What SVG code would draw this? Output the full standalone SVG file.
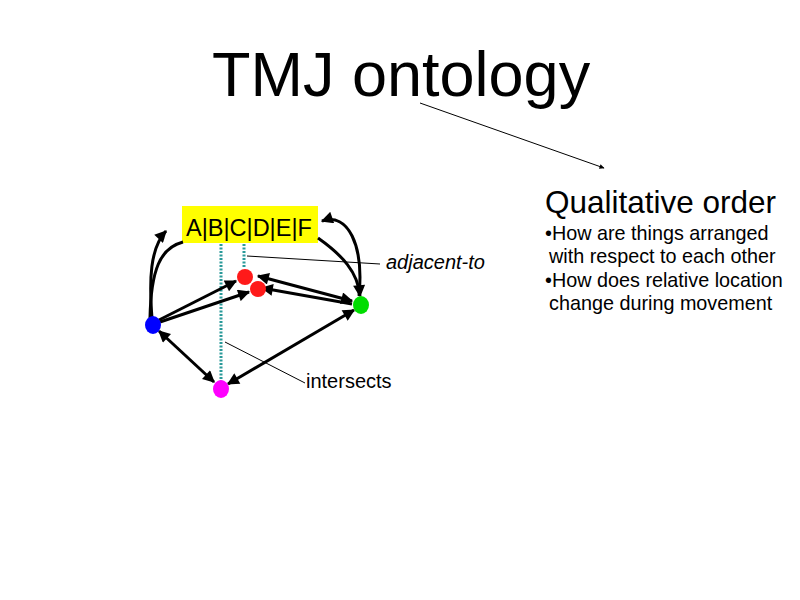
<svg xmlns="http://www.w3.org/2000/svg" width="800" height="600" viewBox="0 0 800 600">
<defs>
<style>
text{font-family:"Liberation Sans",Arial,sans-serif;fill:#000}
.c{stroke:#000;stroke-width:3;fill:none}
.thin{stroke:#000;stroke-width:1;fill:none}
.teal{stroke:#2a9a9a;stroke-width:3;stroke-dasharray:2,1.5;fill:none}
</style>
<marker id="ah" viewBox="0 0 10 10" refX="9" refY="5" markerWidth="4.5" markerHeight="4" orient="auto-start-reverse" markerUnits="strokeWidth">
<path d="M0,0 L10,5 L0,10 z" fill="#000"/>
</marker>
<marker id="ah2" viewBox="0 0 10 10" refX="9" refY="5" markerWidth="7" markerHeight="5" orient="auto" markerUnits="strokeWidth">
<path d="M0,0 L10,5 L0,10 z" fill="#000"/>
</marker>
</defs>
<rect width="800" height="600" fill="#fff"/>
<g id="title"><text x="212" y="96" font-size="63">TMJ ontology</text></g>
<g id="box"><rect x="182" y="206" width="136" height="37" fill="#ffff00"/><text x="186" y="236" font-size="23.5">A|B|C|D|E|F</text></g>
<g id="connectors">
<line class="thin" x1="420" y1="103" x2="604" y2="168" stroke-width="2" marker-end="url(#ah2)"/>
<line class="teal" x1="221" y1="244" x2="221" y2="381"/>
<line class="teal" x1="244" y1="244" x2="244" y2="268"/>
<line class="thin" x1="247" y1="256" x2="380" y2="264"/>
<line class="thin" x1="225" y1="342" x2="305" y2="383"/>
<path class="c" d="M152,318 C149,280 150,248 166,231" marker-end="url(#ah)"/>
<path class="c" d="M183,242 C160,248 151,270 150,318"/>
<path class="c" d="M359,296 C364,245 348,212 322,221" marker-end="url(#ah)"/>
<path class="c" d="M318,238 C342,255 358,272 360,296" marker-end="url(#ah)"/>
<line class="c" x1="159" y1="320" x2="236" y2="281" marker-end="url(#ah)"/>
<line class="c" x1="160" y1="322" x2="249" y2="292" marker-end="url(#ah)"/>
<line class="c" x1="258" y1="276" x2="352" y2="301" marker-start="url(#ah)" marker-end="url(#ah)"/>
<line class="c" x1="262" y1="288" x2="352" y2="304" marker-start="url(#ah)"/>
<line class="c" x1="159" y1="331" x2="214" y2="382" marker-start="url(#ah)" marker-end="url(#ah)"/>
<line class="c" x1="228" y1="384" x2="354" y2="310" marker-start="url(#ah)" marker-end="url(#ah)"/>
</g>
<g id="n_blue"><ellipse cx="153" cy="325" rx="8" ry="9" fill="#0000ff"/></g>
<g id="n_red1"><ellipse cx="245" cy="277" rx="8" ry="8" fill="#ff1a1a"/></g>
<g id="n_red2"><ellipse cx="258" cy="289" rx="8" ry="8" fill="#ff1a1a"/></g>
<g id="n_green"><ellipse cx="361" cy="305" rx="8" ry="9" fill="#00dd00"/></g>
<g id="n_magenta"><ellipse cx="221" cy="389" rx="8" ry="9" fill="#ff00ff"/></g>
<g id="labels">
<text x="386" y="269" font-size="20" font-style="italic">adjacent-to</text>
<text x="306" y="388" font-size="20">intersects</text>
</g>
<g id="desc">
<text x="545" y="213" font-size="31.5">Qualitative order</text>
<text x="545" y="240" font-size="19.8">•How are things arranged</text>
<text x="549" y="263" font-size="19.8">with respect to each other</text>
<text x="545" y="287" font-size="19.8">•How does relative location</text>
<text x="549" y="310" font-size="19.8">change during movement</text>
</g>
</svg>
